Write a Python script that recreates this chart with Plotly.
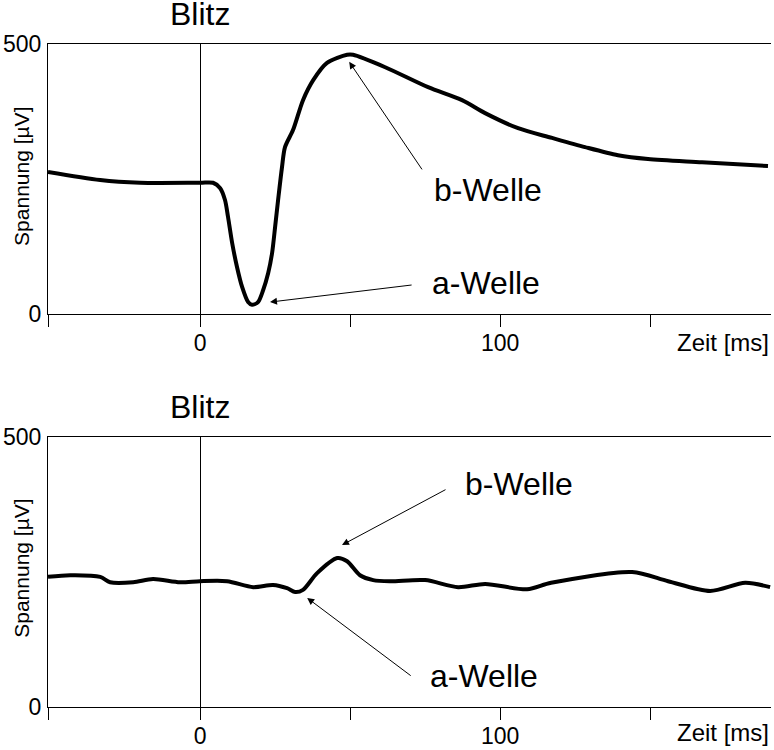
import plotly.graph_objects as go

#### DATEN ####
# oben: normales ERG
zeit_oben = [-50.7, -33.3, -20, 0, 4.3, 6.7, 8.3, 9.3, 10.7, 12.3, 14, 16, 17.3, 19.3, 21, 22.7,
             24, 25, 26, 27.3, 28.3, 31, 34.3, 37.7, 42.3, 49, 51, 61.7, 76, 87.3, 95, 106,
             117.3, 128.3, 139.3, 149.3, 167.3, 189.3]
spannung_oben = [263, 248, 243, 243, 243, 233, 211, 180, 131, 87, 50, 22, 17, 22, 44, 76,
                 113, 161, 211, 272, 309, 341, 396, 433, 465, 480, 480, 457, 420, 396, 372, 344,
                 326, 309, 294, 287, 281, 274]

# unten: reduziertes ERG
zeit_unten = [-50.7, -43.3, -33.3, -30, -22.3, -15.7, -6.7, 0, 9, 17.7, 24.3, 29, 31.7, 34.3,
              39, 45.7, 49, 53.3, 57.7, 63.3, 75, 86, 95, 109, 117, 144, 156, 170, 181.7, 190]
spannung_unten = [241, 244, 241, 231, 231, 237, 231, 233, 233, 222, 226, 220, 213, 217,
                  248, 276, 270, 244, 235, 233, 235, 222, 228, 218, 230, 250, 233, 215, 230, 222]

x_ticks = [-50.7, 0, 50, 100, 150]
x_ticktext = ["", "0", "", "100", ""]
y_ticks = [0, 500]

FONT = "Liberation Sans, Arial, Helvetica, sans-serif"

fig = go.Figure()
fig.add_trace(go.Scatter(x=zeit_oben, y=spannung_oben, mode='lines', xaxis='x', yaxis='y',
                         line=dict(color='black', width=4, shape='spline', smoothing=0.8)))
fig.add_trace(go.Scatter(x=zeit_unten, y=spannung_unten, mode='lines', xaxis='x2', yaxis='y2',
                         line=dict(color='black', width=4, shape='spline', smoothing=0.8)))

xachse = dict(range=[-50.7, 190.3], showline=True, linecolor='black', linewidth=1, mirror=True,
              ticks='outside', ticklen=12, tickcolor='black', tickvals=x_ticks, ticktext=x_ticktext,
              zeroline=True, zerolinecolor='black', zerolinewidth=1, showgrid=False, automargin=False,
              tickfont=dict(size=23, color='black'), ticklabelstandoff=-4)
yachse = dict(range=[0, 500], showline=True, linecolor='black', linewidth=1, ticks='',
              tickvals=y_ticks, showgrid=False, zeroline=False, automargin=False,
              tickfont=dict(size=23, color='black'), ticklabelstandoff=1)

fig.update_layout(
    width=774, height=750, showlegend=False,
    margin=dict(l=48, r=3, t=44, b=43, autoexpand=False),
    paper_bgcolor='white', plot_bgcolor='white',
    font=dict(family=FONT, color='black'),
    xaxis=dict(xachse, domain=[0, 1], anchor='y'),
    yaxis=dict(yachse, domain=[0.5928, 1], anchor='x'),
    xaxis2=dict(xachse, domain=[0, 1], anchor='y2'),
    yaxis2=dict(yachse, domain=[0, 0.4072], anchor='x2'),
)

anns = []
# Beschriftungen je Panel
for xa, ya, y_blitz, y_zeit, y_titel in [('x', 'y', 1.045, 0.5505, 0.801),
                                         ('x2', 'y2', 0.4525, -0.039, 0.21)]:
    anns.append(dict(text="Blitz", xref=xa, yref='paper', x=0, y=y_blitz, showarrow=False,
                     font=dict(size=32), xanchor='center', yanchor='middle'))
    anns.append(dict(text="Zeit [ms]", xref='paper', yref='paper', x=1, y=y_zeit, showarrow=False,
                     font=dict(size=24), xanchor='right', yanchor='middle'))
    anns.append(dict(text="Spannung [µV]", xref='paper', yref='paper', x=-0.036, y=y_titel,
                     showarrow=False, textangle=-90, font=dict(size=21),
                     xanchor='center', yanchor='middle'))

# Pfeile und Wellenbezeichnungen
pfeile = [('x', 'y', 49.7, 467, 74.3, 265, "b-Welle", 77.3, 230),
          ('x', 'y', 23.3, 22, 71, 54, "a-Welle", 76.7, 57),
          ('x2', 'y2', 47.3, 300, 82.3, 404, "b-Welle", 87.7, 413),
          ('x2', 'y2', 35.7, 202, 70.7, 56, "a-Welle", 76, 57)]
for xa, ya, hx, hy, tx, ty, txt, lx, ly in pfeile:
    anns.append(dict(text="", xref=xa, yref=ya, axref=xa, ayref=ya, x=hx, y=hy, ax=tx, ay=ty,
                     showarrow=True, arrowhead=2, arrowsize=1.4, arrowwidth=1, arrowcolor='black'))
    anns.append(dict(text=txt, xref=xa, yref=ya, x=lx, y=ly, showarrow=False,
                     font=dict(size=32), xanchor='left', yanchor='middle'))

fig.update_layout(annotations=anns)

# Seitenrand des Browsers entfernen, damit die Grafik bei (0,0) beginnt
fig.write_html("out.html", config={'displayModeBar': False},
               post_script="document.body.style.margin='0';")
